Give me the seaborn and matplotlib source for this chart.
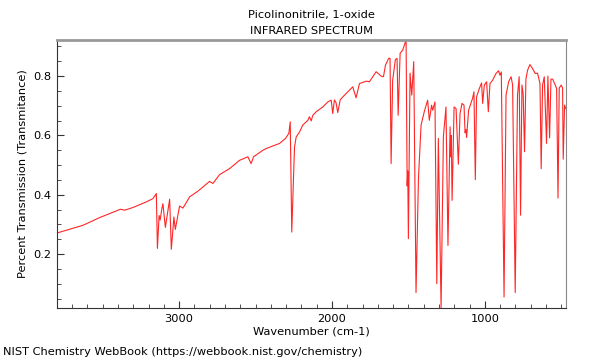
import pandas as pd
import matplotlib
matplotlib.use("Agg")
import matplotlib.pyplot as plt
from matplotlib.ticker import MultipleLocator
import seaborn as sns

# IR spectrum
wavenumber = [3799, 3629, 3520, 3384, 3356, 3302, 3214, 3171, 3149, 3142,
              3131, 3124, 3114, 3106, 3090, 3062, 3051, 3034, 3025, 2997,
              2975, 2931, 2877, 2801, 2779, 2735, 2670, 2605, 2550, 2529,
              2513, 2452, 2430, 2343, 2304, 2282, 2273, 2263, 2245, 2234,
              2212, 2191, 2158, 2147, 2136, 2125, 2103, 2060, 2027, 2005,
              1995, 1984, 1973, 1962, 1946, 1929, 1864, 1842, 1820, 1776,
              1755, 1711, 1678, 1663, 1650, 1629, 1620, 1613, 1603, 1585,
              1574, 1567, 1554, 1537, 1515, 1508, 1504, 1500, 1489, 1478,
              1465, 1450, 1434, 1417, 1396, 1374, 1363, 1348, 1341, 1326,
              1314, 1304, 1286, 1271, 1254, 1241, 1227, 1223, 1219, 1214,
              1201, 1188, 1173, 1162, 1149, 1136, 1129, 1123, 1119, 1106,
              1080, 1071, 1062, 1054, 1036, 1021, 1014, 1003, 988, 977,
              966, 949, 927, 910, 901, 892, 874, 861, 844, 828,
              818, 801, 786, 775, 766, 757, 749, 740, 731, 720,
              705, 688, 670, 655, 639, 631, 622, 611, 596, 587,
              576, 567, 556, 539, 530, 521, 513, 500, 491, 487,
              478, 470]
transmittance = [0.271, 0.297, 0.323, 0.351, 0.348, 0.357, 0.376, 0.387, 0.404, 0.219,
                 0.330, 0.315, 0.350, 0.370, 0.290, 0.385, 0.216, 0.325, 0.283, 0.362,
                 0.355, 0.393, 0.412, 0.445, 0.438, 0.468, 0.488, 0.516, 0.528, 0.505,
                 0.528, 0.550, 0.556, 0.573, 0.590, 0.607, 0.646, 0.274, 0.561, 0.595,
                 0.612, 0.635, 0.651, 0.663, 0.649, 0.668, 0.680, 0.696, 0.713, 0.719,
                 0.674, 0.720, 0.710, 0.677, 0.720, 0.730, 0.764, 0.727, 0.775, 0.783,
                 0.781, 0.815, 0.800, 0.798, 0.837, 0.860, 0.860, 0.505, 0.785, 0.856,
                 0.860, 0.668, 0.877, 0.888, 0.922, 0.430, 0.480, 0.252, 0.810, 0.736,
                 0.849, 0.070, 0.456, 0.635, 0.680, 0.719, 0.651, 0.702, 0.685, 0.713,
                 0.100, 0.590, 0.018, 0.595, 0.696, 0.229, 0.629, 0.528, 0.600, 0.381,
                 0.696, 0.691, 0.503, 0.674, 0.708, 0.702, 0.609, 0.620, 0.593, 0.685,
                 0.725, 0.747, 0.451, 0.730, 0.758, 0.777, 0.708, 0.770, 0.781, 0.680,
                 0.775, 0.786, 0.809, 0.818, 0.803, 0.814, 0.055, 0.736, 0.781, 0.798,
                 0.770, 0.070, 0.736, 0.798, 0.331, 0.770, 0.740, 0.545, 0.790, 0.820,
                 0.839, 0.826, 0.809, 0.810, 0.775, 0.488, 0.770, 0.798, 0.573, 0.800,
                 0.592, 0.790, 0.790, 0.770, 0.758, 0.389, 0.760, 0.770, 0.760, 0.520,
                 0.702, 0.690]

title = "Picolinonitrile, 1-oxide\nINFRARED SPECTRUM"
footer = "NIST Chemistry WebBook (https://webbook.nist.gov/chemistry)"

df = pd.DataFrame({"wn": wavenumber, "T": transmittance})

sns.set_theme(style="ticks")
plt.rcParams['font.family'] = ['DejaVu Sans']
plt.rcParams['font.size'] = 8.2
for key in ["text.color", "axes.labelcolor", "xtick.color", "ytick.color"]:
    plt.rcParams[key] = "black"

fig = plt.figure(figsize=(6, 3.6), dpi=100)
ax = fig.add_axes([0.095, 0.1444, 0.848, 0.7446])

sns.lineplot(data=df, x="wn", y="T", ax=ax, color="#ff0000", linewidth=0.8,
             estimator=None, sort=False, alpha=0.85)

ax.set_xlim(max(wavenumber), min(wavenumber))
ax.set_ylim(min(transmittance), max(transmittance))

ax.xaxis.set_major_locator(MultipleLocator(1000))
ax.xaxis.set_minor_locator(MultipleLocator(100))
ax.yaxis.set_major_locator(MultipleLocator(0.2))
ax.yaxis.set_minor_locator(MultipleLocator(0.05))
ax.tick_params(which="major", direction="in", length=5, width=0.8, labelsize=8.2,
               color="#333333", bottom=True, left=True, top=False, right=False, pad=4)
ax.tick_params(which="minor", direction="in", length=3, width=0.6,
               color="#333333", bottom=True, left=True, top=False, right=False)

for side in ["left", "bottom"]:
    ax.spines[side].set_color("#333333")
    ax.spines[side].set_linewidth(0.8)
ax.spines["top"].set_color("#999999")
ax.spines["top"].set_linewidth(2)
ax.spines["right"].set_color("#888888")
ax.spines["right"].set_linewidth(0.8)

ax.set_xlabel("Wavenumber (cm-1)", fontsize=8.2, labelpad=2)
ax.set_ylabel("Percent Transmission (Transmitance)", fontsize=8.2, labelpad=4)
ax.set_title(title, fontsize=8.2, linespacing=1.85, pad=4)
fig.text(0.005, 0.022, footer, fontsize=8.2, ha="left", va="center")

fig.savefig("out.png", dpi=100)
